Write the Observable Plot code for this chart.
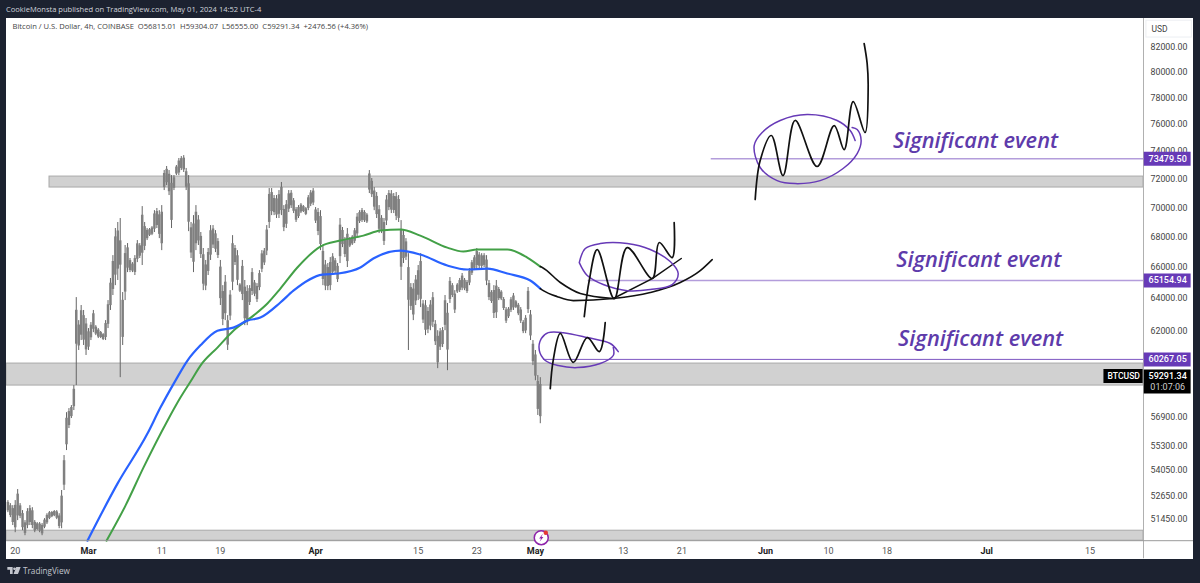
<!DOCTYPE html>
<html>
<head>
<meta charset="utf-8">
<script src="https://cdn.jsdelivr.net/npm/d3@7"></script>
<script src="https://cdn.jsdelivr.net/npm/@observablehq/plot@0.6"></script>
<style>
html,body{margin:0;padding:0;background:#1c2230;width:1200px;height:583px;overflow:hidden}
#head{height:18px;padding-left:6px;color:#d1d4dc;font:7.55px/18px "Open Sans",sans-serif;white-space:nowrap}
#panel{margin-left:6px;width:1187px;height:541px;background:#fff;overflow:hidden}
#panel svg{display:block;background:transparent}
#foot{height:24px;padding-left:7px;color:#c3c6ce;font:8.2px/24px "Open Sans",sans-serif;display:flex;align-items:center;gap:2px}
#foot svg{display:block}
</style>
</head>
<body>
<div id="head">CookieMonsta published on TradingView.com, May 01, 2024 14:52 UTC-4</div>
<div id="panel"></div>
<div id="foot"><svg width="14" height="8" viewBox="0 0 15 9"><path d="M0 0h6v8H3V3H0zM7 8l3-8h5l-3 8z M6.5 2a1.5 1.5 0 1 0 3 0a1.5 1.5 0 1 0-3 0" fill="#c3c6ce"/></svg><span>TradingView</span></div>
<script>
// Days counted from 1 Mar 2024 (UTC)
const day = n => new Date(Date.UTC(2024, 2, 1) + n * 864e5);

// 8-hour price ranges, starting 19 Feb 2024
const barStartDay = -11;
const barHigh = [52425,52270,52165,52425,53000,52270,51910,51400,52010,52165,52060,51400,51300,51300,51250,51500,51750,51860,51860,51910,51910,51750,52950,54810,57180,57410,57580,58730,64060,62620,63560,63250,62750,62130,62500,63250,62310,62130,61950,61820,62620,63870,65280,66770,68580,68990,69260,64380,67440,67570,66580,66310,66770,67770,67570,70080,68990,68580,68580,68710,69800,69950,69800,70150,72620,72910,72620,72260,72260,72980,73490,73630,73700,72770,72260,68990,69460,70150,69460,68310,67240,66450,67240,68780,68780,68440,67900,66450,64820,65470,62930,64500,68100,67440,67100,64950,66450,65150,64820,64820,65920,65150,64950,65790,67100,67240,68780,71340,71340,70850,70850,71200,71770,70150,70500,71200,71200,70640,70015,70150,70290,70150,70015,70850,71200,71340,70015,69950,69800,67440,66450,66250,66640,66900,66580,66250,69260,68650,67970,68580,67970,68100,68580,69600,69800,69950,69800,69600,72620,72050,71410,71060,70150,69460,69260,70850,71200,71200,70990,71060,70850,69120,68440,67900,66900,64950,64950,65470,66120,66900,63870,63870,63430,63870,64380,62620,62000,62130,62190,64190,63690,65340,64950,64500,64950,65280,65600,65280,65150,65920,66450,66770,67240,66970,66900,66900,66770,65150,64500,64820,65150,64700,64500,64060,63430,63430,64060,64320,63870,63690,63430,62620,62930,64700,63250,61400,60800,59310,59190];
const barLow = [51805,51550,51150,50790,51400,51500,50890,50640,50990,51150,50990,50790,50890,50790,50640,50990,51200,51450,51550,51600,51450,50990,50990,52950,55080,56290,56850,57300,58730,60800,61400,61100,60500,60800,61400,61880,61700,61520,61520,61400,61400,62130,63250,64190,64820,65150,59190,61100,63870,65660,65660,65660,65470,66310,66580,66120,67100,67770,68040,68100,68310,68580,67900,67100,71200,71550,70850,68580,71200,72260,72260,72620,72480,71200,68370,66580,65660,67100,67440,66580,64500,64500,65470,66450,67240,66970,66580,63560,62310,62620,60800,62620,64500,66120,64820,64380,63870,62310,62310,63560,64190,64120,63750,64500,65660,66120,66770,68580,69460,69460,69260,69260,69460,68370,68580,69670,69950,69600,68990,69260,69600,69670,69460,69800,70080,70150,68920,68100,67100,64820,64500,64500,64500,65470,65600,65020,66250,67300,66640,65990,67300,67440,67570,67970,68920,68990,68990,68920,70990,70710,69800,69260,68240,68240,67440,68780,69800,69600,69600,69120,68990,65150,66250,66450,60800,63250,62620,63560,63870,63430,62440,61700,61820,62000,62190,61100,59720,60800,60975,62000,59600,63690,64060,63060,64320,64380,64500,64500,64320,64820,65470,65790,65920,65920,65920,65990,64820,63870,63690,62750,62750,63870,63870,63250,62440,62750,63120,63250,63370,62930,62440,61820,61820,63060,61400,59900,59010,57020,56560];

// Moving averages
const blueDays = [-0.14,3.96,8.05,9.82,11.87,13.51,15.28,17.6,19.78,21.69,23.47,26.19,27.97,31.92,34.11,37.11,38.88,42.57,45.29,48.98,51.71,54.44,57.16,60.3,61.67];
const bluePrice = [50390,53310,56010,57466,59020,60200,61110,62000,62190,62620,62810,63750,64500,65530,65600,65990,66580,67100,66840,66120,65860,65920,65600,65150,64630];
const greenDays = [2.46,5.05,7.5,10.78,12.55,14.19,15.28,17.6,19.78,22.51,24.42,26.19,28.51,31.65,34.38,37.52,39.84,42.57,45.29,48.98,51.16,53.07,57.16,59.89,61.67];
const greenPrice = [50390,52165,54160,56730,58040,59140,59900,60975,62000,62930,63690,64630,65990,67370,67770,68100,68440,68510,68100,67300,67040,67170,67170,66640,66050];

// Hand-drawn black projections
const arcADays = [61.67,62.08,63.99,66.17,71.63,76.68,80.77,83.5,85.13];
const arcAPrice = [64630,64500,64120,63870,64000,64380,65020,65790,66510];
const arcBDays = [61.67,61.94,64.4,67.13,71.63];
const arcBPrice = [66050,65990,65020,64320,64000];
const trendDays = [71.63,76.95,80.91];
const trendPrice = [64000,65270,66580];
const zigLowDays = [63.03,63.44,64.4,66.17,68.08,69.72,70.53];
const zigLowPrice = [58550,60240,61830,60090,61580,60730,62500];
const zigMidDays = [67.67,68.35,69.44,71.76,73.53,76.95,77.9,79.67,79.94];
const zigMidPrice = [62870,65150,67170,63990,67300,65280,67640,66640,68990];
const zigTopDays = [91.0,91.68,93.2,94.8,96.45,99.45,101.78,103.14,104.37,106.0,106.42,106.28,105.87];
const zigTopPrice = [70570,73340,75175,72260,76300,72910,75920,74140,77740,75400,78824,80720,82325];

// Hand-drawn purple loops
const loopLowDays = [72.31,71.22,68.08,64.8,62.76,61.8,61.53,62.35,64.12,66.71,69.85,71.63,71.63];
const loopLowPrice = [60730,61220,61580,61880,61880,61520,60800,60200,59900,59780,60020,60500,60975];
const loopMidDays = [66.99,67.81,69.85,73.54,76.67,79.4,80.49,79.67,76.67,73.54,70.26,68.08,66.99];
const loopMidPrice = [66310,67240,67570,67570,67170,66380,65600,64890,64570,64500,64890,65470,66310];
const loopTopDays = [104.64,103.96,102.18,98.09,94.41,91.95,90.86,91.68,94.0,96.45,99.87,103.0,104.92,105.46,104.92,104.23];
const loopTopPrice = [74800,75545,76300,76750,76300,75400,74435,72836,71900,71690,71900,72765,73850,74800,75620,75771];

// Grey zones: upper price, lower price, first day
const zoneTop = [72190,60020,50890];
const zoneBottom = [71412,58730,50390];
const zoneStart = [-5.32,-11.19,-11.19];

// Horizontal levels
const levelPrice = [73479.50,65154.94,60267.05];
const levelStart = [85.0,68.2,62.1];
const levelWidth = [1.5,1.5,1];
const levelColor = ["#b39ddb","#b39ddb","#7e57c2"];

// Notes
const noteText = ["Significant event","Significant event","Significant event"];
const noteDays = [109.8,110.24,110.5];
const notePrice = [74800,66510,61520];

// Axes
const yTicks = [82000,80000,78000,76000,74000,72000,70000,68000,66000,64000,62000,56900,55300,54050,52650,51450];
const dayTicks = [-10,10,18,45,53,73,81,101,109,136.7];
const dayLabels = ["20","11","19","15","23","13","21","10","18","15"];
const monthTicks = [0,31,61,92.4,122.6];
const monthLabels = ["Mar","Apr","May","Jun","Jul"];

const lastPrice = 59291.34;
const countdown = "01:07:06";
const infoLine = "Bitcoin / U.S. Dollar, 4h, COINBASE  O56815.01  H59304.07  L56555.00  C59291.34  +2476.56 (+4.36%)";

const table = (days, prices) => days.map((d, i) => ({date: day(d), price: prices[i]}));
const bars = barHigh.map((h, i) => {
  const l = barLow[i], bodyTop = h - 0.15 * (h - l);
  return {date: day(barStartDay + i / 3), high: h, low: l, bodyTop, bodyLow: Math.max(l + 0.15 * (h - l), h * 0.955)};
});
const lineOf = (days, prices, stroke, strokeWidth, curve) =>
  Plot.line(table(days, prices), {x: "date", y: "price", stroke, strokeWidth, curve, strokeLinejoin: "round", strokeLinecap: "round"});

const domainEnd = 144;
const axisEnd = 151.6;
const tagStart = 144.1;
const tagEnd = 150.5;
const tagMid = 147.3;
const font = "Roboto, sans-serif";

const bolt = {draw(c, size) {
  const s = Math.sqrt(size) / 14;
  c.moveTo(1.8 * s, -4.5 * s); c.lineTo(-2.4 * s, 0.8 * s); c.lineTo(-0.2 * s, 0.8 * s);
  c.lineTo(-1.8 * s, 4.5 * s); c.lineTo(2.4 * s, -0.8 * s); c.lineTo(0.2 * s, -0.8 * s); c.closePath();
}};

const chart = Plot.plot({
  width: 1187, height: 541,
  marginLeft: 0, marginRight: 50, marginTop: 0, marginBottom: 19,
  style: {background: "transparent", fontFamily: font},
  x: {type: "utc", domain: [day(-11.19), day(domainEnd)]},
  y: {type: "log", domain: [50400, 84382]},
  marks: [
    Plot.rect(zoneTop.map((t, i) => ({top: t, bottom: zoneBottom[i], start: day(zoneStart[i])})),
      {x1: "start", x2: () => day(domainEnd), y1: "bottom", y2: "top", fill: "#d1d1d1", stroke: "#a9a9a9", strokeWidth: 1}),
    levelPrice.map((p, i) => Plot.ruleY([p], {x1: day(levelStart[i]), x2: day(domainEnd), stroke: levelColor[i], strokeWidth: levelWidth[i]})),
    Plot.ruleX(bars, {x: "date", y1: "low", y2: "high", stroke: "#666", strokeWidth: 1}),
    Plot.ruleX(bars, {x: "date", y1: "bodyLow", y2: "bodyTop", stroke: "#808080", strokeWidth: 2.5}),
    lineOf(greenDays, greenPrice, "#43a047", 2, "monotone-x"),
    lineOf(blueDays, bluePrice, "#2962ff", 2.2, "monotone-x"),
    lineOf(arcADays, arcAPrice, "#111", 1.6, "monotone-x"),
    lineOf(arcBDays, arcBPrice, "#111", 1.6, "monotone-x"),
    lineOf(trendDays, trendPrice, "#111", 1.5, "linear"),
    lineOf(loopLowDays, loopLowPrice, "#673ab7", 1.5, "catmull-rom"),
    lineOf(loopMidDays, loopMidPrice, "#673ab7", 1.5, "catmull-rom"),
    lineOf(loopTopDays, loopTopPrice, "#673ab7", 1.5, "catmull-rom"),
    lineOf(zigLowDays, zigLowPrice, "#111", 1.7, "catmull-rom"),
    lineOf(zigMidDays, zigMidPrice, "#111", 1.7, "catmull-rom"),
    lineOf(zigTopDays, zigTopPrice, "#111", 1.7, "catmull-rom"),
    Plot.text(noteText.map((t, i) => ({t, date: day(noteDays[i]), price: notePrice[i]})),
      {x: "date", y: "price", text: "t", textAnchor: "start", fill: "#5e3bab", fontSize: 21.8, fontStyle: "italic", fontWeight: 600, fontFamily: "Open Sans, sans-serif"}),
    Plot.text([infoLine], {text: d => d, frameAnchor: "top-left", dx: 6, dy: 5, fontSize: 7.6, fill: "#444", fontFamily: "Open Sans, sans-serif"}),
    // axis lines
    Plot.ruleX([day(domainEnd)], {y1: 84382, y2: 49500, stroke: "#b0b0b0", strokeWidth: 1, clip: false}),
    Plot.ruleY([50390], {x1: day(-11.19), x2: day(axisEnd), stroke: "#9a9a9a", strokeWidth: 1}),
    // axes
    Plot.axisY(yTicks, {anchor: "right", label: null, tickSize: 0, tickPadding: 7, tickFormat: d => d.toFixed(2), fontSize: 8.8, fill: "#444"}),
    Plot.axisX(dayTicks.map(day), {label: null, tickSize: 0, tickPadding: 7, tickFormat: d => dayLabels[dayTicks.findIndex(n => +day(n) === +d)], fontSize: 9, fill: "#555"}),
    Plot.axisX(monthTicks.map(day), {label: null, tickSize: 0, tickPadding: 7, tickFormat: d => monthLabels[monthTicks.findIndex(n => +day(n) === +d)], fontSize: 9, fontWeight: 700, fill: "#222"}),
    // currency box
    Plot.rect([0], {x1: () => day(144.4), x2: () => day(150.6), y1: 82810, y2: 84200, fill: "#fff", stroke: "#eceef2"}),
    Plot.text(["USD"], {x: day(145.1), y: 83480, text: d => d, textAnchor: "start", fontSize: 8.5, fill: "#444"}),
    // level tags
    levelPrice.map(p => Plot.ruleY([p], {x1: day(tagStart), x2: day(tagEnd), stroke: "#673ab7", strokeWidth: 14})),
    Plot.text(levelPrice, {x: day(tagMid), y: d => d, text: d => d.toFixed(2), fill: "#fff", fontSize: 9, fontWeight: 500}),
    // last price tags
    Plot.ruleY([lastPrice], {x1: day(138.6), x2: day(tagStart - 0.15), stroke: "#000", strokeWidth: 14}),
    Plot.text(["BTCUSD"], {x: day(141.3), y: lastPrice, text: d => d, fill: "#fff", fontSize: 8.6, fontWeight: 500}),
    Plot.ruleY([58960], {x1: day(tagStart), x2: day(tagEnd), stroke: "#000", strokeWidth: 24}),
    Plot.text([lastPrice], {x: day(tagMid), y: lastPrice, text: d => d.toFixed(2), fill: "#fff", fontSize: 9, fontWeight: 500}),
    Plot.text([countdown], {x: day(tagMid), y: lastPrice, dy: 11, text: d => d, fill: "#cfcfcf", fontSize: 9}),
    // event badge
    Plot.dot([0], {x: day(61.8), y: 50540, r: 7, fill: "#fff", stroke: "#8e24aa", strokeWidth: 1.5}),
    Plot.dot([0], {x: day(61.8), y: 50540, symbol: bolt, r: 7, fill: "#8e24aa", stroke: "none"}),
    Plot.dot([0], {x: day(61.8), y: 50540, dx: 4.5, dy: -5, r: 2.2, fill: "#e53935", stroke: "none"})
  ]
});
document.getElementById("panel").appendChild(chart);
</script>
</body>
</html>
